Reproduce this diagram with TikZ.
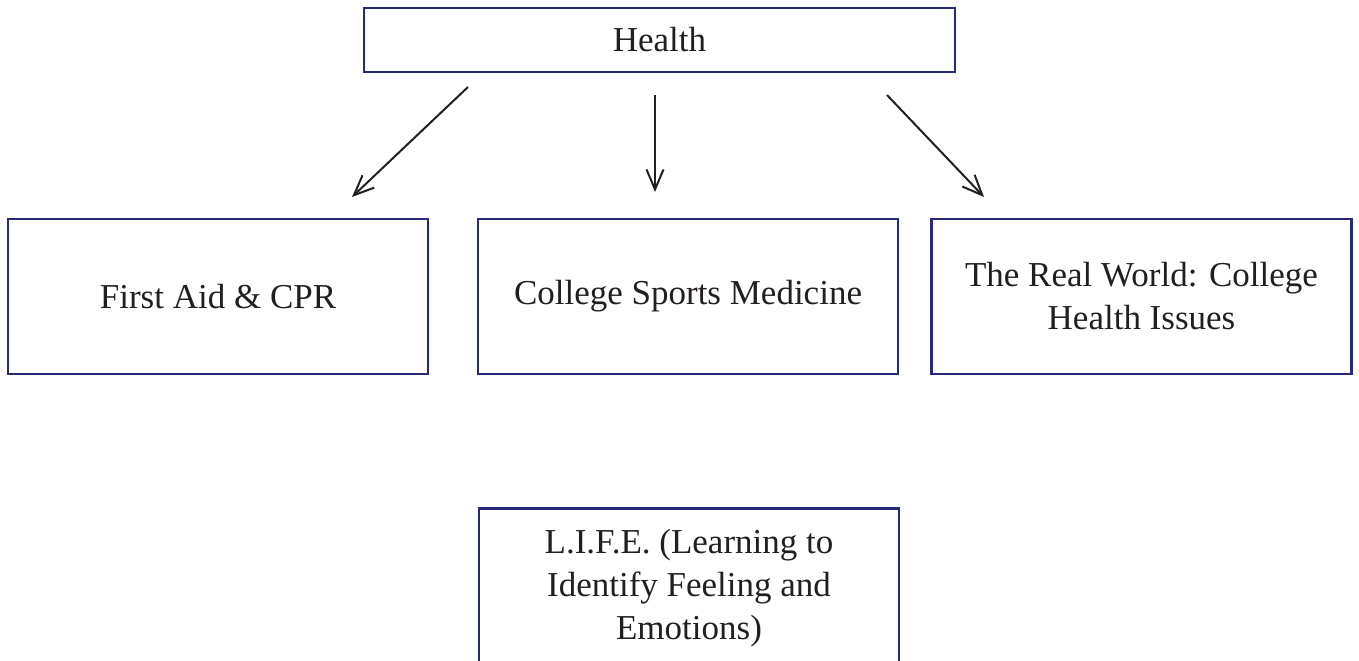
\documentclass[tikz,border=0pt]{standalone}
\usepackage{tikz}
\usetikzlibrary{arrows.meta}
\usepackage{amsmath}
\usepackage{amssymb}
\usepackage[table]{xcolor}
\usepackage{fontspec}
\setmainfont{Liberation Serif}

\definecolor{boxblue}{RGB}{38,42,120}
\definecolor{inkgray}{RGB}{35,31,32}

\tikzset{
	topic/.style={draw=boxblue, line width=1.4pt, text=inkgray, align=center,
		minimum width=210pt, minimum height=77.5pt, inner sep=0pt,
		font=\fontsize{17.5}{21.5}\selectfont},
	pointer/.style={draw=inkgray, line width=1pt,
		-{Straight Barb[length=10pt,width=8.5pt,line width=1pt]}}
}

\begin{document}
\begin{tikzpicture}[x=0.5pt,y=-0.5pt]
			\useasboundingbox (0,0) rectangle (1359,660);

			\node[topic, minimum width=295.5pt, minimum height=32pt] (health) at (659.5, 40) {Health};

			\node[topic] (aid) at (218, 296.5) {First Aid \& CPR};
			\node[topic] (sports) at (688, 296.5) {College Sports Medicine};
			\node[topic] (world) at (1141.5, 296.5) {The Real World: College\\Health Issues};

			\node[topic, minimum height=80pt, anchor=north] (life) at (689, 507) {L.I.F.E. (Learning to\\Identify Feeling and\\Emotions)};

			% free ends of the arrows
			\coordinate (hA) at (468, 87);
			\coordinate (tA) at (352, 197);
			\coordinate (hB) at (655, 95);
			\coordinate (tB) at (655, 192);
			\coordinate (hC) at (887, 95);
			\coordinate (tC) at (984, 197);

			\foreach \s in {A, B, C}
			\draw[pointer] (h\s) -- (t\s);
		\end{tikzpicture}
\end{document}
